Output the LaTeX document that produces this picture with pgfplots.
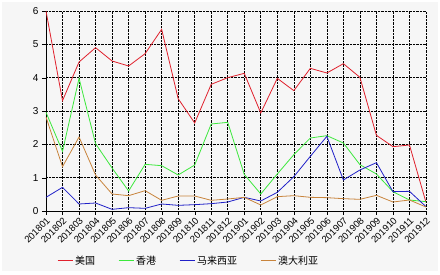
\documentclass[border=0pt]{standalone}
\usepackage{fontspec}
\setmainfont{Liberation Sans}
\newfontfamily\cjk{Noto Sans CJK SC}
\usepackage{pgfplots}
\pgfplotsset{compat=1.18}
\definecolor{cUS}{HTML}{E0202C}
\definecolor{cHK}{HTML}{3CE83C}
\definecolor{cMY}{HTML}{2020C8}
\definecolor{cAU}{HTML}{C8843C}
\definecolor{bg}{HTML}{F6F6F6}
\begin{document}
\begin{tikzpicture}
\fill[white] (-46pt,-64pt) rectangle (394pt,211pt);
\fill[bg] (-44pt,-60pt) rectangle (392pt,209pt);
\begin{axis}[
  scale only axis, width=380pt, height=200pt,
  xmin=0, xmax=23, ymin=0, ymax=6,
  axis x line*=bottom, axis y line*=left,
  axis line style={black, -},
  xtick={0,...,23},
  xticklabels={201801,201802,201803,201804,201805,201806,201807,201808,201809,201810,201811,201812,201901,201902,201903,201904,201905,201906,201907,201908,201909,201910,201911,201912},
  x tick label style={rotate=45, anchor=north east, font=\fontsize{9.5}{10}\selectfont, inner sep=1pt},
  ytick={0,1,2,3,4,5,6},
  y tick label style={font=\fontsize{10}{11}\selectfont},
  /pgf/number format/assume math mode=true,
  tick align=outside,
  major tick length=4pt,
  tick style={black},
  grid=major,
  major grid style={black, densely dotted, line width=0.6pt},
  legend style={at={(0.021,-0.25)}, anchor=west, draw=none, fill=none,
    legend columns=4, font=\cjk\fontsize{10}{11}\selectfont,
    nodes={inner sep=2pt},
    /tikz/every even column/.append style={column sep=21pt}},
  legend image code/.code={\draw[#1, line width=1pt] (0pt,0pt) -- (15pt,0pt);},
  every axis plot/.append style={line width=0.8pt, mark=none},
]
\addplot[cUS] coordinates {(0,6.0)(1,3.31)(2,4.47)(3,4.9)(4,4.5)(5,4.35)(6,4.72)(7,5.45)(8,3.37)(9,2.64)(10,3.8)(11,4.0)(12,4.13)(13,2.94)(14,3.98)(15,3.61)(16,4.28)(17,4.14)(18,4.42)(19,4.01)(20,2.27)(21,1.93)(22,1.98)(23,0.26)};
\addplot[cHK] coordinates {(0,2.96)(1,1.79)(2,3.98)(3,2.02)(4,1.29)(5,0.6)(6,1.4)(7,1.36)(8,1.08)(9,1.38)(10,2.61)(11,2.66)(12,1.1)(13,0.51)(14,1.11)(15,1.69)(16,2.19)(17,2.26)(18,2.04)(19,1.39)(20,1.11)(21,0.58)(22,0.33)(23,0.28)};
\addplot[cMY] coordinates {(0,0.41)(1,0.71)(2,0.21)(3,0.24)(4,0.05)(5,0.1)(6,0.08)(7,0.21)(8,0.17)(9,0.19)(10,0.22)(11,0.27)(12,0.41)(13,0.3)(14,0.56)(15,1.03)(16,1.64)(17,2.24)(18,0.93)(19,1.23)(20,1.45)(21,0.58)(22,0.59)(23,0.13)};
\addplot[cAU] coordinates {(0,2.82)(1,1.33)(2,2.22)(3,1.08)(4,0.51)(5,0.46)(6,0.61)(7,0.32)(8,0.45)(9,0.45)(10,0.32)(11,0.36)(12,0.41)(13,0.18)(14,0.43)(15,0.46)(16,0.41)(17,0.4)(18,0.37)(19,0.35)(20,0.47)(21,0.27)(22,0.33)(23,0.12)};
\legend{美国,香港,马来西亚,澳大利亚}
\end{axis}
\end{tikzpicture}
\end{document}
